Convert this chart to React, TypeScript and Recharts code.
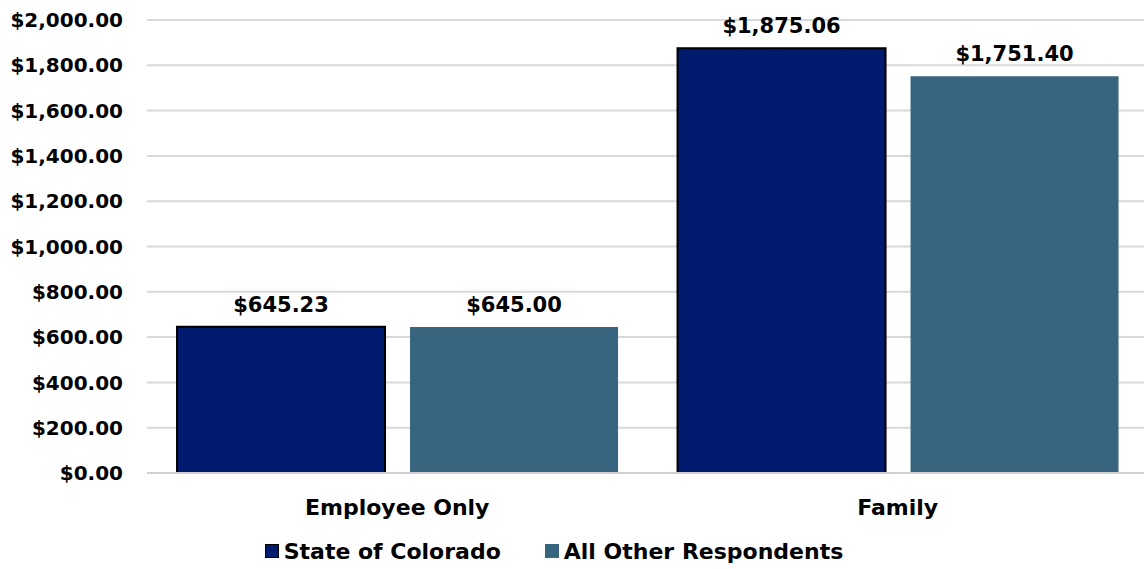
import React from "react";
import { BarChart, Bar, XAxis, YAxis, CartesianGrid, Legend, LabelList } from "recharts";

const categories = ["Employee Only", "Family"];
const stateOfColorado = [645.23, 1875.06];
const allOtherRespondents = [645.0, 1751.4];
const yTicks = [0, 200, 400, 600, 800, 1000, 1200, 1400, 1600, 1800, 2000];

const data = categories.map((name, i) => ({
  name,
  colorado: stateOfColorado[i],
  others: allOtherRespondents[i],
}));

const FONT = "'DejaVu Sans', Verdana, sans-serif";
const NAVY = "#001a6e";
const TEAL = "#37657f";
const yStyle = { fontFamily: FONT, fontWeight: "bold", fontSize: 20, fill: "#000" };
const xStyle = { ...yStyle, fontSize: 22 };
const labelStyle = { ...yStyle, fontSize: 21 };

const money = (v: number) =>
  "$" + v.toLocaleString("en-US", { minimumFractionDigits: 2, maximumFractionDigits: 2 });

function LegendBox() {
  const item = (color: string, label: string, border: boolean, gap: number) => (
    <span style={{ display: "inline-flex", alignItems: "center", marginRight: gap }}>
      <span
        style={{
          display: "inline-block",
          width: 14,
          height: 14,
          background: color,
          border: border ? "1.5px solid #000" : "none",
          boxSizing: "border-box",
          marginRight: 5,
        }}
      />
      <span>{label}</span>
    </span>
  );
  return (
    <div
      style={{
        textAlign: "center",
        fontFamily: FONT,
        fontWeight: "bold",
        fontSize: 22,
        color: "#000",
        paddingRight: 40,
        paddingTop: 5,
      }}
    >
      {item(NAVY, "State of Colorado", true, 44)}
      {item(TEAL, "All Other Respondents", false, 0)}
    </div>
  );
}

export default function App() {
  return (
    <div style={{ position: "absolute", left: 0, top: 0, background: "#fff" }}>
      <BarChart
        width={1148}
        height={569}
        data={data}
        margin={{ top: 20, right: 0, bottom: 0, left: 0 }}
        barCategoryGap="6%"
        barGap={25}
      >
        <CartesianGrid vertical={false} stroke="#d9d9d9" strokeWidth={2} />
        <XAxis
          dataKey="name"
          axisLine={{ stroke: "#d0d0d0", strokeWidth: 2 }}
          tickLine={false}
          tickSize={0}
          tickMargin={26}
          height={60}
          tick={xStyle}
        />
        <YAxis
          domain={[0, 2000]}
          ticks={yTicks}
          width={147}
          axisLine={false}
          tickLine={false}
          tickSize={0}
          tickMargin={24}
          tickFormatter={money}
          tick={yStyle}
        />
        <Legend verticalAlign="bottom" height={36} content={() => <LegendBox />} />
        <Bar dataKey="colorado" fill={NAVY} stroke="#000" strokeWidth={2} isAnimationActive={false}>
          <LabelList
            dataKey="colorado"
            position="top"
            offset={15}
            formatter={(v: any) => money(Number(v))}
            style={labelStyle}
          />
        </Bar>
        <Bar dataKey="others" fill={TEAL} isAnimationActive={false}>
          <LabelList
            dataKey="others"
            position="top"
            offset={15}
            formatter={(v: any) => money(Number(v))}
            style={labelStyle}
          />
        </Bar>
      </BarChart>
    </div>
  );
}
